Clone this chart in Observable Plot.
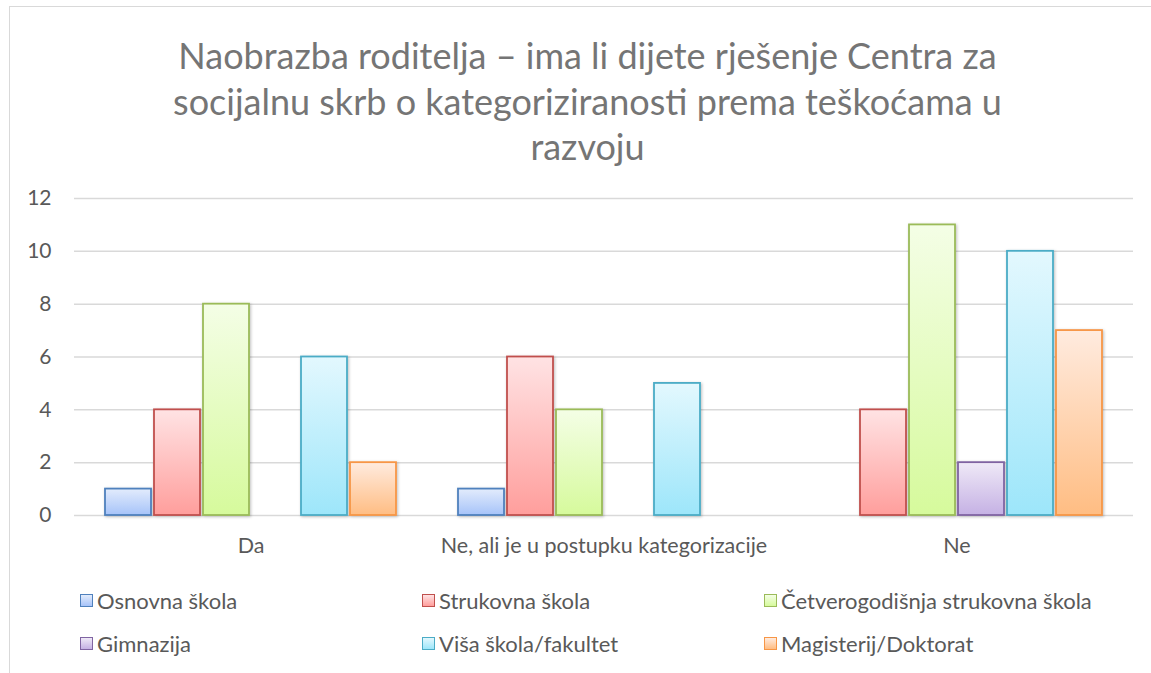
<!DOCTYPE html>
<html>
<head>
<meta charset="utf-8">
<script src="https://cdn.jsdelivr.net/npm/d3@7"></script>
<script src="https://cdn.jsdelivr.net/npm/@observablehq/plot@0.6"></script>
<style>
  html, body { margin: 0; padding: 0; background: #fff; overflow: hidden; }
  body { width: 1151px; height: 673px; position: relative; font-family: Lato, "Open Sans", sans-serif; }
  #frame { position: absolute; left: 9px; top: 6px; width: 1200px; height: 720px; border: 1.5px solid #d9d9d9; box-sizing: border-box; }
  #title { position: absolute; left: 0; width: 1175px; top: 33px; text-align: center; color: #757575; font-size: 36px; line-height: 45.5px; }
  #chart { position: absolute; left: 0; top: 0; }
  .leg { position: absolute; font-size: 22px; color: #595959; display: flex; align-items: center; white-space: nowrap; }
  .sw { width: 11px; height: 11px; border: 1.5px solid; margin-right: 4px; }
</style>
</head>
<body>
<div id="frame"></div>
<div id="title">Naobrazba roditelja – ima li dijete rješenje Centra za<br>socijalnu skrb o kategoriziranosti prema teškoćama u<br>razvoju</div>
<div id="chart"></div>
<div id="legend"></div>
<script>
const categories = ["Da", "Ne, ali je u postupku kategorizacije", "Ne"];
const series = ["Osnovna škola", "Strukovna škola", "Četverogodišnja strukovna škola", "Gimnazija", "Viša škola/fakultet", "Magisterij/Doktorat"];
const valuesDa = [1, 4, 8, 0, 6, 2];
const valuesNeAli = [1, 6, 4, 0, 5, 0];
const valuesNe = [0, 4, 11, 2, 10, 7];
const yTicks = [0, 2, 4, 6, 8, 10, 12];

const strokes = ["#4f81bd", "#c0504d", "#9bbb59", "#8064a2", "#4bacc6", "#f79646"];
const topFills = ["#e3ecfc", "#ffe3e4", "#f4fee6", "#efe9f7", "#e3f8fe", "#ffebdf"];
const bottomFills = ["#a6c3f9", "#ff9e9c", "#d6fa9c", "#c5b1e4", "#9de6fa", "#ffbd83"];

const allValues = [valuesDa, valuesNeAli, valuesNe];
const data = [];
categories.forEach((c, ci) => series.forEach((s, si) => {
  const v = allValues[ci][si];
  if (v > 0) data.push({category: c, series: s, value: v, si});
}));

const marks = [
  Plot.gridY(yTicks, {stroke: "#d9d9d9", strokeOpacity: 1, strokeWidth: 1.5}),
  Plot.axisY(yTicks, {tickSize: 0, tickPadding: 23, fontSize: 21, fill: "#595959", label: null}),
  Plot.axisFx({anchor: "bottom", tickSize: 0, tickPadding: 22, fontSize: 21.5, fill: "#595959", label: null})
];
series.forEach((s, si) => {
  marks.push(Plot.barY(data.filter(d => d.si === si), {
    fx: "category", x: "series", y: "value",
    fill: `url(#grad${si})`, stroke: strokes[si], strokeWidth: 1.8
  }));
});

const plot = Plot.plot({
  width: 1151,
  height: 560,
  marginTop: 198,
  marginBottom: 45,
  marginLeft: 73,
  marginRight: 18,
  style: {fontFamily: "Lato, 'Open Sans', sans-serif", background: "transparent", overflow: "visible"},
  fx: {domain: categories, padding: 0, label: null},
  x: {domain: series, paddingInner: 0.07, paddingOuter: 0.62, axis: null},
  y: {domain: [0, 12], axis: null},
  marks
});

// gradients and shadow
const ns = "http://www.w3.org/2000/svg";
const defs = document.createElementNS(ns, "defs");
let defsHtml = `<filter id="shadow" x="-20%" y="-20%" width="140%" height="140%"><feDropShadow dx="1" dy="1" stdDeviation="1.5" flood-color="#000" flood-opacity="0.25"/></filter>`;
series.forEach((s, si) => {
  defsHtml += `<linearGradient id="grad${si}" x1="0" y1="0" x2="0" y2="1"><stop offset="0" stop-color="${topFills[si]}"/><stop offset="1" stop-color="${bottomFills[si]}"/></linearGradient>`;
});
defs.innerHTML = defsHtml;
plot.insertBefore(defs, plot.firstChild);
plot.querySelectorAll('g[aria-label="bar"]').forEach(g => g.setAttribute("filter", "url(#shadow)"));
document.getElementById("chart").appendChild(plot);

// legend
const legendPos = [[80, 600], [422, 600], [764, 600], [80, 643], [422, 643], [764, 643]];
const legend = document.getElementById("legend");
series.forEach((s, si) => {
  const el = document.createElement("div");
  el.className = "leg";
  el.style.left = legendPos[si][0] + "px";
  el.style.top = (legendPos[si][1] - 14) + "px";
  el.style.height = "28px";
  el.innerHTML = `<span class="sw" style="border-color:${strokes[si]};background:linear-gradient(${topFills[si]},${bottomFills[si]})"></span><span>${s}</span>`;
  legend.appendChild(el);
});
</script>
</body>
</html>
